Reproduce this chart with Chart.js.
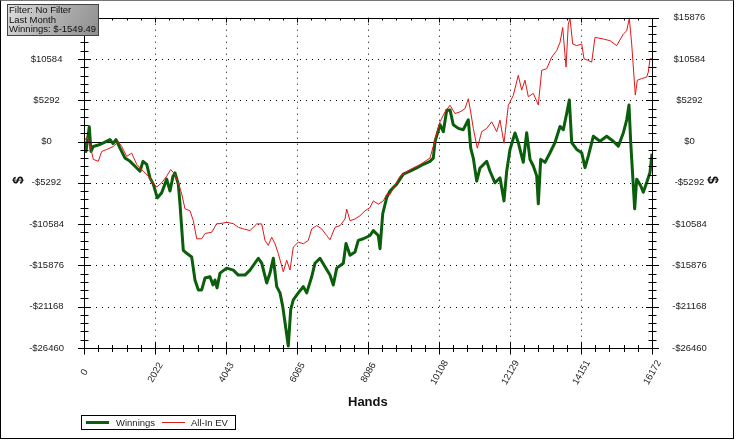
<!DOCTYPE html>
<html><head><meta charset="utf-8">
<script src="https://cdn.jsdelivr.net/npm/chart.js@4"></script>
<style>
html,body{margin:0;padding:0;background:#fff;}
#wrap{position:relative;width:736px;height:440px;overflow:hidden;font-family:"Liberation Sans",Arial,sans-serif;background:#fff;}
#c{position:absolute;left:0;top:0;}
.frame{position:absolute;left:0;top:0;width:734px;height:439px;box-sizing:border-box;border-left:1px solid #000;border-right:1px solid #000;border-bottom:1px solid #000;border-top:1px solid #777;pointer-events:none;}
.info{position:absolute;left:7px;top:4px;width:92px;height:32px;box-sizing:border-box;border:1px solid #444;background:linear-gradient(120deg,#dedede 0%,#b4b4b4 45%,#8e8e8e 100%);font-size:9.5px;line-height:9.7px;color:#111;padding-left:1px;white-space:nowrap;z-index:5;}
.title{position:absolute;font-weight:bold;color:#111;white-space:nowrap;}
.legend{position:absolute;left:81px;top:415px;width:155px;height:15px;box-sizing:border-box;border:1px solid #000;background:#fff;font-size:9.5px;color:#222;}
.legend .ln{position:absolute;}
.legend .tx{position:absolute;top:1px;line-height:12px;white-space:nowrap;}
</style></head>
<body>
<div id="wrap">
<canvas id="c" width="736" height="440"></canvas>
<div class="info">Filter: No Filter<br>Last Month<br>Winnings: $-1549.49</div>
<div class="title" style="left:348px;top:394px;font-size:13px;">Hands</div>
<div class="title" style="left:12px;top:172px;font-size:14px;transform:rotate(-90deg);transform-origin:50% 50%;width:12px;text-align:center;">$</div>
<div class="title" style="left:707px;top:172px;font-size:14px;transform:rotate(90deg);transform-origin:50% 50%;width:12px;text-align:center;">$</div>
<div class="legend">
  <div class="ln" style="left:4px;top:5px;width:23px;height:3px;background:#0b5e0b;"></div>
  <div class="tx" style="left:34px;">Winnings</div>
  <div class="ln" style="left:80px;top:6px;width:23px;height:1px;background:#e01818;"></div>
  <div class="tx" style="left:109px;">All-In EV</div>
</div>
<div class="frame"></div>
</div>
<script>
// ---- data ----
const xTickValues = [0, 2021.5, 4043, 6064.5, 8086, 10107.5, 12129, 14150.5, 16172];
const xTickLabels = ['0', '2022', '4043', '6065', '8086', '10108', '12129', '14151', '16172'];
const yTickValues = [-26460, -21168, -15876, -10584, -5292, 0, 5292, 10584, 15876];

const winHands = [0,57,151,199,265,456,626,740,826,911,1025,1167,1310,1452,1594,1680,1785,1879,1973,2087,2212,2355,2449,2534,2591,2685,2733,2827,2924,3066,3160,3254,3351,3445,3588,3673,3730,3787,3872,4063,4251,4393,4584,4726,4963,5060,5202,5296,5390,5487,5581,5658,5723,5817,5885,5959,6102,6244,6341,6483,6577,6719,6862,7004,7098,7195,7383,7460,7574,7716,7810,7952,8143,8237,8379,8428,8505,8619,8712,8903,9091,9282,9473,9661,9851,9945,9994,10136,10230,10327,10421,10514,10657,10799,10942,11010,11084,11181,11275,11465,11560,11702,11844,11958,12035,12129,12271,12365,12507,12604,12699,12793,12889,12935,13003,13126,13268,13410,13553,13647,13744,13818,13886,14028,14171,14265,14358,14501,14692,14882,15070,15213,15355,15452,15517,15566,15623,15679,15736,15850,15924,16021,16115,16172];
const winnings = [0,-1268,1901,-1268,-634,-380,0,254,-254,254,-849,-2117,-2535,-3169,-3803,-2535,-2915,-4652,-5450,-7225,-6553,-4817,-6338,-4436,-4018,-5450,-7985,-13943,-14323,-14792,-17745,-19013,-19013,-17492,-17327,-18379,-17745,-18759,-16858,-16224,-16478,-17111,-17111,-16478,-14957,-15590,-18125,-16858,-14957,-18594,-19393,-21129,-23195,-26199,-21548,-20280,-19393,-18594,-19393,-17327,-15590,-14957,-16059,-17111,-18379,-16224,-15590,-13055,-14576,-14158,-12675,-12460,-12041,-11408,-12041,-13727,-9253,-7187,-6338,-5450,-4183,-3803,-3384,-2915,-2535,-2117,0,2155,1268,4018,4056,2155,1686,1521,2789,-849,-2117,-5070,-3384,-2535,-3803,-5285,-4652,-7605,-3803,-1014,1103,-127,-2662,1141,-2282,-3131,-4398,-7985,-2282,-2662,-1432,-127,1939,1521,3638,5324,-127,-1014,-1432,-3334,-1863,672,38,672,38,-596,1103,2789,4690,-127,-4398,-8619,-4817,-5666,-6502,-5235,-3967,-1549];

const evHands = [0,85,171,265,407,504,646,834,977,1073,1216,1358,1500,1688,1831,1927,2070,2212,2355,2469,2591,2685,2782,2876,3018,3112,3209,3351,3445,3636,3778,3872,4063,4251,4393,4536,4726,4917,5060,5153,5247,5344,5438,5532,5674,5771,5865,5959,6102,6244,6386,6483,6625,6768,6910,7004,7146,7289,7431,7480,7574,7716,7858,8001,8143,8237,8379,8522,8619,8712,8997,9282,9567,9851,9994,10136,10278,10421,10563,10706,10848,10942,11010,11084,11198,11323,11465,11608,11750,11844,11958,12081,12223,12365,12462,12556,12650,12793,12935,13032,13174,13316,13459,13553,13630,13724,13789,13837,13914,14028,14171,14236,14358,14455,14549,14785,14976,15167,15355,15452,15526,15594,15660,15697,15754,15879,16021,16067,16115,16172];
const evValues = [0,634,-380,-2282,-2535,-1268,-1014,-634,0,-634,-1901,-1483,-2915,-3803,-4436,-5070,-5831,-5285,-4436,-3587,-4183,-5285,-6718,-8619,-8873,-10140,-12460,-12460,-11788,-11623,-10520,-10520,-10356,-10520,-10989,-11192,-11408,-10558,-10558,-12675,-13309,-12257,-13093,-14361,-16693,-15210,-16478,-13524,-12890,-13093,-12675,-11192,-10774,-11192,-12041,-12586,-10989,-10774,-9925,-8657,-10140,-9925,-9506,-8873,-8454,-7605,-8023,-7605,-6756,-6800,-4436,-3587,-2953,-2117,215,2535,3803,4652,3587,3803,4221,5488,3803,1686,-849,1268,1686,2535,1268,2750,-215,4652,5919,8492,6591,7859,5742,6173,4690,9126,9341,10812,11661,12713,14614,9544,15045,15800,12510,12295,12510,10609,10394,10178,13347,13144,12929,12295,13778,14196,15800,12510,8277,5957,7859,8074,8277,8911,10609,10609];

// ---- helpers ----
const FONT = '"Liberation Sans", Arial, sans-serif';
const fmtMoney = v => (v < 0 ? '-$' + Math.abs(Math.round(v)) : '$' + Math.round(v));
const toPts = (xs, ys) => xs.map((x, i) => ({x: x, y: ys[i]}));

const axesPlugin = {
  id: 'axesPlugin',
  beforeDatasetsDraw(chart) {
    const ctx = chart.ctx, a = chart.chartArea;
    const xs = chart.scales.x, ys = chart.scales.y;
    ctx.save();
    ctx.strokeStyle = '#000';
    ctx.lineWidth = 1;
    ctx.setLineDash([1, 5]);
    xTickValues.forEach((v, i) => {
      if (i === 0 || i === xTickValues.length - 1) return;
      const px = Math.round(xs.getPixelForValue(v)) + 0.5;
      ctx.beginPath(); ctx.moveTo(px, a.top); ctx.lineTo(px, a.bottom); ctx.stroke();
    });
    yTickValues.forEach((v, i) => {
      if (i === 0 || i === yTickValues.length - 1 || v === 0) return;
      const py = Math.round(ys.getPixelForValue(v)) + 0.5;
      ctx.beginPath(); ctx.moveTo(a.left, py); ctx.lineTo(a.right, py); ctx.stroke();
    });
    ctx.setLineDash([]);
    const p0 = Math.round(ys.getPixelForValue(0)) + 0.5;
    ctx.beginPath(); ctx.moveTo(a.left, p0); ctx.lineTo(a.right, p0); ctx.stroke();
    ctx.restore();
  },
  afterDatasetsDraw(chart) {
    const ctx = chart.ctx, a = chart.chartArea;
    const xs = chart.scales.x, ys = chart.scales.y;
    const L = Math.round(a.left) + 0.5, R = Math.round(a.right) + 0.5;
    const T = Math.round(a.top) + 0.5, B = Math.round(a.bottom) + 0.5;
    ctx.save();
    ctx.strokeStyle = '#000';
    ctx.lineWidth = 1;
    ctx.beginPath();
    ctx.moveTo(L, T); ctx.lineTo(R, T); ctx.lineTo(R, B); ctx.lineTo(L, B); ctx.closePath();
    ctx.stroke();
    ctx.beginPath();
    const xmax = xs.max, ymin = ys.min, ymax = ys.max;
    for (let i = 0; i <= 40; i++) {
      const major = i % 5 === 0;
      const px = Math.round(xs.getPixelForValue(xmax * i / 40)) + 0.5;
      const d = major ? 6 : 3.5;
      ctx.moveTo(px, B - d); ctx.lineTo(px, B + d);
      ctx.moveTo(px, T); ctx.lineTo(px, T + (major ? 4 : 2));
    }
    for (let i = 0; i <= 40; i++) {
      const major = i % 5 === 0;
      const py = Math.round(ys.getPixelForValue(ymin + (ymax - ymin) * i / 40)) + 0.5;
      const d = major ? 6.5 : 4;
      ctx.moveTo(L - d, py); ctx.lineTo(L + d, py);
      ctx.moveTo(R - d, py); ctx.lineTo(R + d, py);
    }
    ctx.stroke();
    // rotated x tick labels, centred on their tick
    ctx.fillStyle = '#222';
    ctx.font = '9.5px ' + FONT;
    ctx.textAlign = 'center';
    ctx.textBaseline = 'middle';
    xTickValues.forEach((v, i) => {
      const px = xs.getPixelForValue(v);
      ctx.save();
      ctx.translate(px + 0.5, a.bottom + 24.5);
      ctx.rotate(-60 * Math.PI / 180);
      ctx.fillText(xTickLabels[i], 0, 0);
      ctx.restore();
    });
    ctx.restore();
  }
};

const yCommon = (pos) => ({
  type: 'linear', position: pos, min: -26460, max: 15876,
  grid: {display: false}, border: {display: false},
  afterBuildTicks: s => { s.ticks = yTickValues.map(v => ({value: v})); },
  afterFit: s => { s.width = 84; },
  ticks: {crossAlign: 'center', padding: 12, color: '#222', font: {size: 9.5, family: FONT},
          callback: v => fmtMoney(v)}
});

new Chart(document.getElementById('c'), {
  type: 'line',
  data: {
    datasets: [
      {label: 'Winnings', data: toPts(winHands, winnings), borderColor: '#0b5e0b', borderWidth: 3,
       pointRadius: 0, tension: 0, order: 1, borderJoinStyle: 'round'},
      {label: 'All-In EV', data: toPts(evHands, evValues), borderColor: '#e01818', borderWidth: 1,
       pointRadius: 0, tension: 0, order: 0}
    ]
  },
  options: {
    responsive: false, animation: false, devicePixelRatio: 1,
    layout: {padding: {top: 14, left: 0, right: 0, bottom: 0}},
    plugins: {legend: {display: false}, tooltip: {enabled: false}},
    scales: {
      x: {
        type: 'linear', position: 'bottom', min: 0, max: 16172,
        grid: {display: false}, border: {display: false},
        afterBuildTicks: s => { s.ticks = xTickValues.map(v => ({value: v})); },
        afterFit: s => { s.height = 92; },
        ticks: {display: false, autoSkip: false}
      },
      y: yCommon('left'),
      y2: yCommon('right')
    }
  },
  plugins: [axesPlugin]
});
</script>
</body></html>
